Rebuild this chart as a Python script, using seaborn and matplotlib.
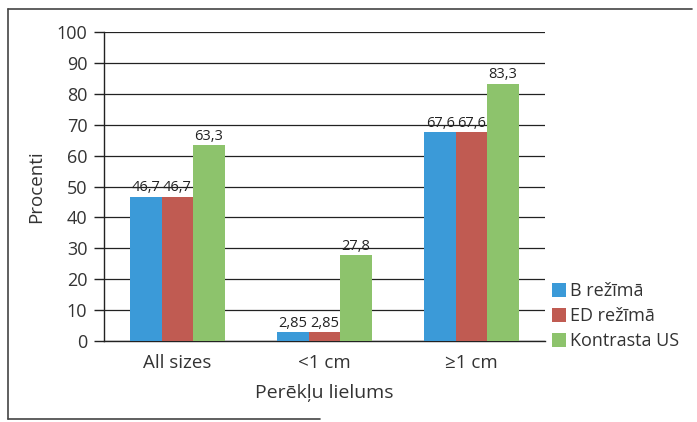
import matplotlib
matplotlib.use("Agg")
import matplotlib.pyplot as plt
from matplotlib.lines import Line2D
import seaborn as sns
import pandas as pd

categories = ["All sizes", "<1 cm", "≥1 cm"]
series_names = ["B režīmā", "ED režīmā", "Kontrasta US"]
b_mode = [46.7, 2.85, 67.6]
ed_mode = [46.7, 2.85, 67.6]
contrast_us = [63.3, 27.8, 83.3]
value_labels = {
    "B režīmā": ["46,7", "2,85", "67,6"],
    "ED režīmā": ["46,7", "2,85", "67,6"],
    "Kontrasta US": ["63,3", "27,8", "83,3"],
}
colors = ["#3b9ad8", "#c05b52", "#8dc36c"]
y_ticks = list(range(0, 101, 10))

rows = []
for name, vals in zip(series_names, [b_mode, ed_mode, contrast_us]):
    for cat, v in zip(categories, vals):
        rows.append({"size": cat, "mode": name, "pct": v})
df = pd.DataFrame(rows)

sns.set_style("white")
plt.rcParams["font.family"] = ["Open Sans", "DejaVu Sans"]

fig = plt.figure(figsize=(6.97, 4.22), dpi=100)
ax = fig.add_axes([104 / 697, 1 - 341 / 422, 441 / 697, 309 / 422])

sns.barplot(data=df, x="size", y="pct", hue="mode", order=categories,
            hue_order=series_names, palette=colors, width=0.64,
            saturation=1, ax=ax, zorder=3, linewidth=0)

for container, name in zip(ax.containers, series_names):
    ax.bar_label(container, labels=value_labels[name], padding=1,
                 fontsize=10.5, color="#222222")

ax.set_ylim(0, 100)
ax.set_yticks(y_ticks)
ax.set_yticklabels([str(t) for t in y_ticks], fontsize=13, color="#333333")
ax.tick_params(axis="y", length=7, width=1, color="#222222", pad=5, direction="out", left=True)
ax.tick_params(axis="x", length=0, pad=9, labelsize=13.5, labelcolor="#333333")
ax.yaxis.grid(True, color="#222222", linewidth=0.9, zorder=0)
ax.set_axisbelow(True)
for s in ["top", "right"]:
    ax.spines[s].set_visible(False)
for s in ["left", "bottom"]:
    ax.spines[s].set_color("#222222")
    ax.spines[s].set_linewidth(1)
ax.set_xlabel("Perēkļu lielums", fontsize=14, color="#333333", labelpad=9)
ax.set_ylabel("Procenti", fontsize=13.5, color="#333333", labelpad=8)

ax.legend(loc="lower left", bbox_to_anchor=(1.0, -0.053), frameon=False,
          fontsize=13, handlelength=0.75, handleheight=0.8, handletextpad=0.25,
          labelspacing=0.38, borderaxespad=0, labelcolor="#333333")

# page frame around the figure
W, H = 697, 422
frame = [((8, 419), (8, 9)), ((8, 9), (692, 9)), ((8, 419), (320, 419))]
for (x0, y0), (x1, y1) in frame:
    fig.add_artist(Line2D([x0 / W, x1 / W], [1 - y0 / H, 1 - y1 / H],
                          color="#444444", linewidth=1.2))

fig.savefig("out.png", dpi=100)
